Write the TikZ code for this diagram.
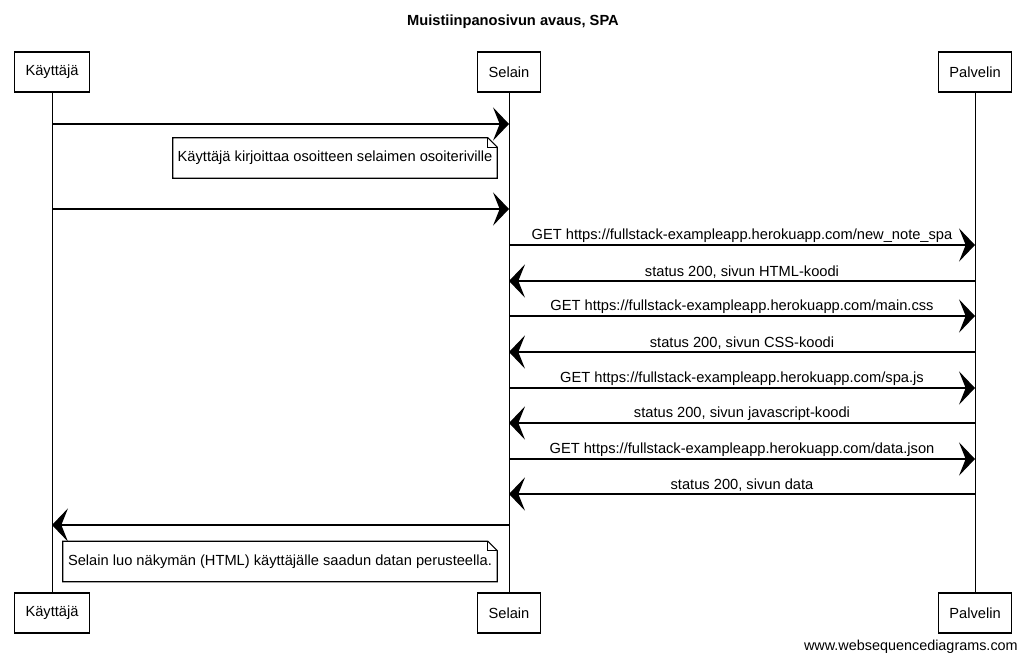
\documentclass[tikz,border=0pt]{standalone}
\usepackage{fontspec}
\setmainfont{Liberation Sans}
\usepackage{tikz}
\usetikzlibrary{arrows.meta,positioning,calc}
\tikzstyle{actor}  = [draw, line width=0.8pt, fill=white, inner xsep=8pt, minimum height=30pt, font=\fontsize{11}{13}\selectfont]
\tikzstyle{life}   = [line width=0.7pt]
\tikzstyle{msg}    = [line width=0.9pt, -{Stealth[length=12pt,width=25pt,inset=5pt]}]
\tikzstyle{lbl}    = [above, inner sep=1.5pt, font=\fontsize{11}{13}\selectfont]
\tikzstyle{note}   = [inner sep=0pt, minimum height=30pt, font=\fontsize{11}{13}\selectfont]
\tikzstyle{noteline} = [line width=0.8pt]

\begin{document}
\begin{tikzpicture}[x=0.75pt,y=-0.75pt]
		\useasboundingbox (0,0) rectangle (1026,661);

		\node[font=\bfseries\fontsize{11}{13}\selectfont] (title) at (513,22) {Muistiinpanosivun avaus, SPA};

		% participants
		\node[actor] (kt)   at (52,72)    {Käyttäjä};
		\node[actor] (sel)  at (509,72)   {Selain};
		\node[actor] (pal)  at (975,72)   {Palvelin};
		\node[actor] (ktb)  at (52,613)   {Käyttäjä};
		\node[actor] (selb) at (509,613)  {Selain};
		\node[actor] (palb) at (975,613)  {Palvelin};

		\draw[life] (kt) -- (ktb);
		\draw[life] (sel) -- (selb);
		\draw[life] (pal) -- (palb);

		% message rows
		\coordinate (r1) at (0,124);
		\coordinate (r2) at (0,209);
		\coordinate (r3) at (0,245);
		\coordinate (r4) at (0,281);
		\coordinate (r5) at (0,316);
		\coordinate (r6) at (0,352);
		\coordinate (r7) at (0,388);
		\coordinate (r8) at (0,423);
		\coordinate (r9) at (0,459);
		\coordinate (r10) at (0,494);
		\coordinate (r11) at (0,525);

		\draw[msg] (kt |- r1) -- (sel |- r1);

		\node[note, minimum width=243pt] (n1) at (335,158) {Käyttäjä kirjoittaa osoitteen selaimen osoiteriville};
		\draw[noteline] (n1.south west) -- (n1.north west) -- ([xshift=-7pt]n1.north east) -- ([yshift=-7pt]n1.north east) -- (n1.south east) -- cycle;
		\draw[noteline] ([xshift=-7pt]n1.north east) -- ([xshift=-7pt,yshift=-7pt]n1.north east) -- ([yshift=-7pt]n1.north east);

		\draw[msg] (kt |- r2) -- (sel |- r2);

		\draw[msg] (sel |- r3) -- node[lbl]{GET https://fullstack-exampleapp.herokuapp.com/new\_note\_spa} (pal |- r3);
		\draw[msg] (pal |- r4) -- node[lbl]{status 200, sivun HTML-koodi} (sel |- r4);
		\draw[msg] (sel |- r5) -- node[lbl]{GET https://fullstack-exampleapp.herokuapp.com/main.css} (pal |- r5);
		\draw[msg] (pal |- r6) -- node[lbl]{status 200, sivun CSS-koodi} (sel |- r6);
		\draw[msg] (sel |- r7) -- node[lbl]{GET https://fullstack-exampleapp.herokuapp.com/spa.js} (pal |- r7);
		\draw[msg] (pal |- r8) -- node[lbl]{status 200, sivun javascript-koodi} (sel |- r8);
		\draw[msg] (sel |- r9) -- node[lbl]{GET https://fullstack-exampleapp.herokuapp.com/data.json} (pal |- r9);
		\draw[msg] (pal |- r10) -- node[lbl]{status 200, sivun data} (sel |- r10);

		\draw[msg] (sel |- r11) -- (kt |- r11);

		\node[note, minimum width=325.5pt] (n2) at (280,561.5) {Selain luo näkymän (HTML) käyttäjälle saadun datan perusteella.};
		\draw[noteline] (n2.south west) -- (n2.north west) -- ([xshift=-7pt]n2.north east) -- ([yshift=-7pt]n2.north east) -- (n2.south east) -- cycle;
		\draw[noteline] ([xshift=-7pt]n2.north east) -- ([xshift=-7pt,yshift=-7pt]n2.north east) -- ([yshift=-7pt]n2.north east);

		\node[font=\fontsize{10.8}{13}\selectfont, anchor=east, inner sep=0pt] (site) at (1018,647) {www.websequencediagrams.com};
	\end{tikzpicture}
\end{document}
